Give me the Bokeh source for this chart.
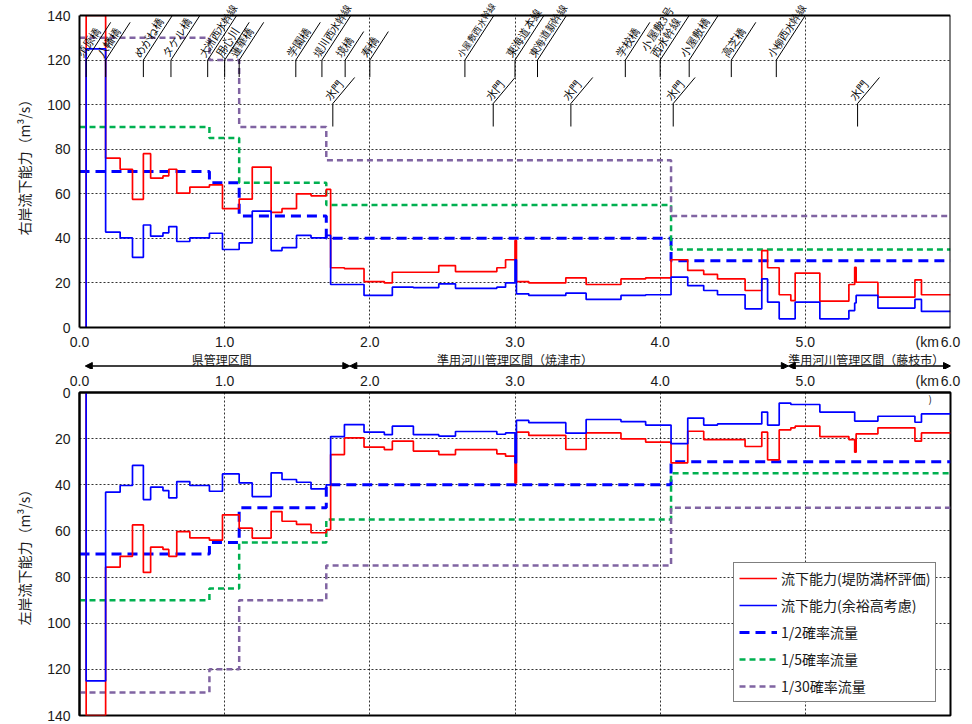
import math
from bokeh.plotting import figure
from bokeh.models import (Range1d, FixedTicker, CustomJSTickFormatter, Legend, LegendItem,
                          LabelSet, Label, ColumnDataSource, Arrow, NormalHead)
from bokeh.layouts import column
from bokeh.embed import file_html
from bokeh.resources import INLINE
from bokeh.core.properties import value, field

# ---------------- data ----------------
km_edges = [0.046, 0.18, 0.28, 0.365, 0.44, 0.49, 0.575, 0.615, 0.67, 0.76, 0.895, 0.985,
            1.10, 1.19, 1.32, 1.395, 1.495, 1.595, 1.70, 1.73, 1.825, 1.96, 2.10, 2.155,
            2.30, 2.475, 2.59, 2.875, 2.935, 3.00, 3.01, 3.095, 3.35, 3.49, 3.73, 3.90,
            4.075, 4.19, 4.30, 4.395, 4.585, 4.70, 4.74, 4.82, 4.90, 4.93, 5.10, 5.30,
            5.34, 5.35, 5.50, 5.755, 5.80, 6.00]

# right bank (top panel)
right_full = [200, 76, 71, 57.5, 78, 67, 68, 71, 60.3, 63, 64, 53.3, 57.6, 72, 51.7, 53.3,
              60, 59.1, 62, 26.8, 26.4, 20.6, 20, 24.8, 24.8, 27.8, 25.1, 26.8, 30.4, 39,
              20.6, 20, 22.3, 19.3, 21.8, 22.3, 30.4, 25.6, 23.8, 21.8, 16.6, 34.5, 26.8,
              14.7, 12.1, 24.4, 11.8, 19.3, 27, 20.3, 13.6, 21.4, 14.7]
right_free = [125, 42.8, 40.2, 31.5, 46, 41, 42.5, 45.3, 38.6, 40.2, 42.3, 35, 38, 52.2,
              34.5, 35.8, 41.3, 40.2, 41.3, 19.3, 19.3, 14.4, 14.4, 18.1, 17.9, 19.6, 17.6,
              18.1, 20, 30.4, 15.1, 14.4, 15.4, 12.6, 14.4, 14.7, 22.6, 18.8, 16.6, 14.7,
              8.4, 21.8, 11.4, 3.9, 3.9, 11.4, 3.9, 7.6, 11, 14.4, 8.7, 12.6, 7.2]
# left bank (bottom panel)
left_full = [200, 75.7, 71, 57.4, 78, 67, 68, 71, 60.3, 63, 64, 53, 58.8, 63.1, 51.6, 55.8,
             57.2, 60.8, 59.4, 26.9, 19.7, 23.7, 24.8, 21.1, 25.4, 26.9, 24.8, 26.6, 27.6,
             39.2, 17.2, 18.6, 24.7, 17.5, 20.1, 21.5, 30.5, 16.8, 20.4, 20.4, 23.4, 17.2,
             29.2, 16.2, 15.3, 14.6, 19.1, 20.4, 25.9, 17.9, 15.3, 21.1, 17.5]
left_free = [125, 43.2, 40.3, 31.6, 46.4, 41, 42.5, 45.7, 38.6, 40.3, 42.8, 35.3, 39.2,
             45.1, 34.8, 37.7, 38.9, 41.8, 40, 19.1, 13.9, 17.2, 18.3, 14.6, 18.3, 18.9,
             16.9, 18.1, 17.5, 30.5, 12.1, 13.1, 17.6, 11.7, 12.6, 14.1, 22.2, 11.1, 14.1,
             13.6, 13.6, 8.5, 14.1, 4.6, 5.2, 5.2, 8.5, 8.5, 12.4, 12.4, 10.3, 12.9, 9.3]

flow_edges = [0.0, 0.895, 1.10, 1.70, 4.075, 6.0]
flow_q2 = [70, 65, 50, 40, 30]
flow_q5 = [90, 85, 65, 55, 35]
flow_q30 = [130, 120, 90, 75, 50]

x_ticks = [0, 1, 2, 3, 4, 5, 6]
km_unit_tick = 5.84          # where the "(km" unit note sits next to 6.0
y_ticks = [0, 20, 40, 60, 80, 100, 120, 140]
y_max = 140

bridge_km = [0.046, 0.18, 0.44, 0.63, 0.883, 1.0, 1.10, 1.49, 1.67, 1.83, 2.0, 2.655,
             3.0, 3.155, 3.76, 4.0, 4.2, 4.49, 4.80]
bridge_names = ["須原橋", "八幡橋", "めがね橋", "タケル橋", "大洲西水幹線", "用心川", "蓮華橋",
                "学園橋", "堤川西水幹線", "境橋", "寿橋", "小屋敷西水幹線", "東海道本線",
                "東海道新幹線", "学校橋", "小屋敷3号\n西水幹線", "小屋敷橋", "高芝橋", "小柳西水幹線"]
bridge_level = 120
gate_km = [1.745, 2.85, 3.385, 4.09, 5.36]
gate_name = "水門"
gate_level = 100.5

section_bounds = [0.04, 1.862, 4.883, 6.0]
section_names = ["県管理区間", "準用河川管理区間（焼津市）", "準用河川管理区間（藤枝市）"]
section_label_km = [0.98, 3.0, 5.42]

legend_labels = ["流下能力(堤防満杯評価)", "流下能力(余裕高考慮)", "1/2確率流量", "1/5確率流量", "1/30確率流量"]

# ---------------- layout constants ----------------
JP = "Noto Sans CJK JP"
NUM = "Liberation Sans"
LB, RB, FW = 79, 14, 871
W = LB + FW + RB
TOP_PAD, TOP_FH, TOP_BB = 15, 312, 25      # TOP_PAD: room above the 140 line (inside frame)
H_TOP = TOP_PAD + TOP_FH + TOP_BB
BOT_BT, BOT_FH, BOT_BB = 23, 323, 9
H_BOT = BOT_BT + BOT_FH + BOT_BB
H_MID = 724 - H_TOP - H_BOT

C_RED, C_BLUE, C_GREEN, C_PURPLE = "#FF0000", "#0000FF", "#00B050", "#8064A2"

xr = Range1d(0, 6)
px_km = FW / (xr.end - xr.start)
px_unit = TOP_FH / float(y_max)

tick_fmt = CustomJSTickFormatter(
    code="return (tick > 5.5 && tick < 5.99) ? '(km' : tick.toFixed(1);")


def steps(edges, vals, start=None, cap=None):
    xs, ys = [], []
    if start is not None:
        xs.append(edges[0]); ys.append(start)
    for i, v in enumerate(vals):
        if cap is not None:
            v = min(v, cap)       # values beyond the axis run up to the plot border
        xs += [edges[i], edges[i + 1]]
        ys += [v, v]
    return xs, ys


def panel(height, bt, bb, yr, ylabel, axis_loc, standoff):
    p = figure(width=W, height=height, x_range=xr, y_range=yr, output_backend="svg",
               toolbar_location=None, min_border_left=LB, min_border_right=RB,
               min_border_top=bt, min_border_bottom=bb, x_axis_location=axis_loc)
    p.outline_line_color = "black"
    p.outline_line_width = 2
    p.background_fill_color = "white"
    p.border_fill_color = "white"
    p.xaxis.ticker = FixedTicker(ticks=x_ticks + [km_unit_tick])
    p.xaxis.formatter = tick_fmt
    p.yaxis.ticker = FixedTicker(ticks=y_ticks)
    p.axis.major_label_text_font = NUM
    p.axis.major_label_text_font_size = "14px"
    p.axis.major_label_text_color = "#1a1a1a"
    p.axis.major_tick_out = 0
    p.axis.major_tick_in = 0
    p.axis.minor_tick_out = 0
    p.axis.minor_tick_in = 0
    p.axis.axis_line_color = "black"
    p.axis.axis_line_width = 2
    p.xaxis.major_label_standoff = standoff
    p.yaxis.major_label_standoff = 9
    p.yaxis.axis_label = ylabel
    p.yaxis.axis_label_text_font = JP
    p.yaxis.axis_label_text_font_size = "14px"
    p.yaxis.axis_label_text_font_style = "normal"
    p.yaxis.axis_label_text_color = "#1a1a1a"
    p.yaxis.axis_label_standoff = 10
    p.xgrid.ticker = FixedTicker(ticks=x_ticks)
    p.ygrid.ticker = FixedTicker(ticks=y_ticks)
    p.grid.grid_line_color = "black"
    p.grid.grid_line_dash = "2 2"
    p.grid.grid_line_width = 1
    p.grid.grid_line_alpha = 0.8
    return p


def draw_series(p, full, free):
    r2 = p.line(*steps(flow_edges, flow_q2), color=C_BLUE, line_width=3, line_dash="10 6")
    r5 = p.line(*steps(flow_edges, flow_q5), color=C_GREEN, line_width=2.5, line_dash="6 4")
    r30 = p.line(*steps(flow_edges, flow_q30), color=C_PURPLE, line_width=2.5, line_dash="6 4")
    rf = p.line(*steps(km_edges, full, 0, y_max), color=C_RED, line_width=1.7)
    rb = p.line(*steps(km_edges, free, 0, y_max), color=C_BLUE, line_width=1.7)
    return [rf, rb, r2, r5, r30]


# ---------------- top panel ----------------
# the frame reaches above the 140 line so that the slanted bridge names are not cut
y_top = y_max + TOP_PAD / px_unit
p_top = panel(H_TOP, 0, TOP_BB, Range1d(0, y_top), "右岸流下能力（m³/s）", "below", 6)
p_top.outline_line_color = None
p_top.yaxis.bounds = (0, y_max)
draw_series(p_top, right_full, right_free)
# white strip above the 140 line, then the plot border
p_top.quad(left=[xr.start - 1], right=[xr.end + 1], bottom=[y_max + 0.3], top=[y_top + 20],
           fill_color="white", line_color=None)
p_top.segment(x0=[xr.start, xr.end], y0=[y_max, 0], x1=[xr.end, xr.end], y1=[y_max, y_max],
              line_color="black", line_width=2)


def annotations(kms, names, level, stem_px, ang_deg):
    th = math.radians(ang_deg)
    max_len = (y_max - level) * px_unit / math.sin(th)
    sx0, sy0, sx1, sy1 = [], [], [], []
    lx, ly, lt, lf = [], [], [], []
    for k, nm in zip(kms, names):
        n = max(len(s) for s in nm.split("\n"))
        fs = min(11.0, 62.0 / n)
        L = min(n * fs + 12, max_len)
        sx0 += [k, k]
        sy0 += [level, level]
        sx1 += [k, k + L * math.cos(th) / px_km]
        sy1 += [level - stem_px / px_unit, level + L * math.sin(th) / px_unit]
        lx.append(k); ly.append(level); lt.append(nm); lf.append("%.1fpx" % fs)
    p_top.segment(sx0, sy0, sx1, sy1, line_color="black", line_width=1)
    src = ColumnDataSource(dict(x=lx, y=ly, t=lt, fs=lf))
    ls = LabelSet(x="x", y="y", text="t", source=src, angle=ang_deg, angle_units="deg",
                  text_font=JP, text_font_size=field("fs"), text_color="black",
                  text_align="left", text_baseline="bottom", text_line_height=1.0,
                  x_offset=-1.5 * math.sin(th), y_offset=1.5 * math.cos(th))
    p_top.add_layout(ls)


annotations(bridge_km, bridge_names, bridge_level, 17, 57)
annotations(gate_km, [gate_name] * len(gate_km), gate_level, 23, 50)

# ---------------- middle strip ----------------
p_mid = figure(width=W, height=H_MID, x_range=xr, y_range=Range1d(0, H_MID),
               output_backend="svg", toolbar_location=None, x_axis_type=None, y_axis_type=None,
               min_border_left=LB, min_border_right=RB, min_border_top=0, min_border_bottom=0)
p_mid.outline_line_color = None
p_mid.grid.visible = False
mid_bottom = H_TOP + H_MID
p_mid.text(x=section_label_km, y=[mid_bottom - 359] * len(section_label_km), text=section_names,
           text_font=value(JP), text_font_size="12px", text_align="center",
           text_baseline="middle", text_color="#1a1a1a")
arrow_y = mid_bottom - 365.5
for a, b in zip(section_bounds[:-1], section_bounds[1:]):
    p_mid.add_layout(Arrow(x_start=a, y_start=arrow_y, x_end=b, y_end=arrow_y,
                           line_color="black", line_width=1.5,
                           start=NormalHead(size=7, fill_color="black", line_color="black"),
                           end=NormalHead(size=7, fill_color="black", line_color="black")))

# ---------------- bottom panel ----------------
p_bot = panel(H_BOT, BOT_BT, BOT_BB, Range1d(140, 0), "左岸流下能力（m³/s）", "above", 4)
rs = draw_series(p_bot, left_full, left_free)
legend = Legend(items=[LegendItem(label=l, renderers=[r]) for l, r in zip(legend_labels, rs)],
                location=(654, 13), border_line_color="black", border_line_width=1,
                background_fill_color="white", background_fill_alpha=1.0,
                label_text_font=JP, label_text_font_size="14px", label_text_color="#1a1a1a",
                glyph_width=38, glyph_height=20, label_height=20, spacing=7,
                padding=5, margin=0, label_standoff=4)
p_bot.add_layout(legend)
bot_px_unit = BOT_FH / 140.0
p_bot.add_layout(Label(x=km_unit_tick + 0.02, y=6 / bot_px_unit, text=")", text_font=JP,
                       text_font_size="10px", text_align="center", text_baseline="middle",
                       text_color="#1a1a1a"))

layout = column(p_top, p_mid, p_bot)
open("out.html", "w").write(file_html(layout, INLINE))
